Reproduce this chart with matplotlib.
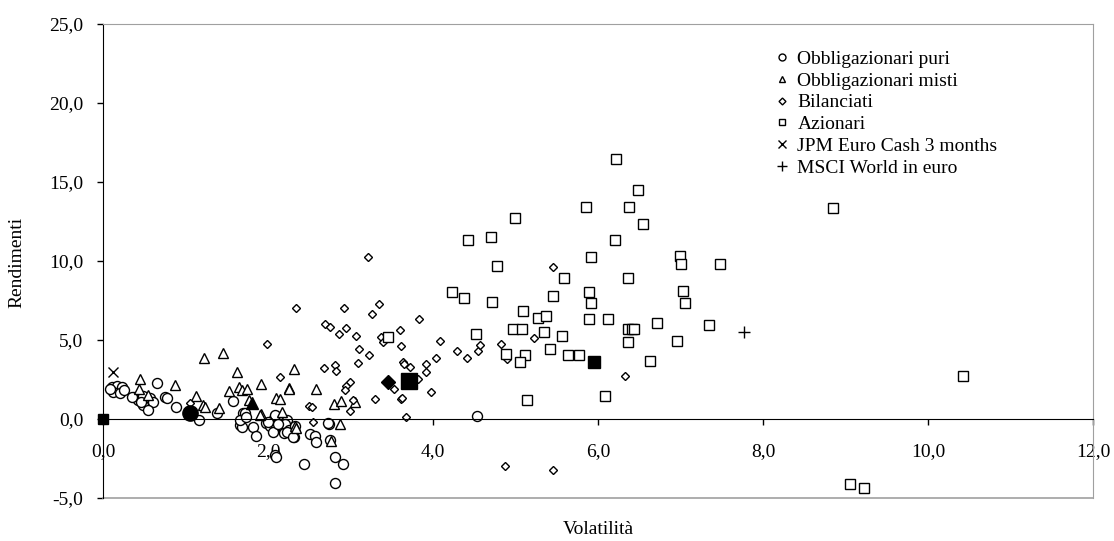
import matplotlib.pyplot as plt
from matplotlib.lines import Line2D

plt.rcParams['font.family'] = ['Liberation Serif', 'DejaVu Serif']

# Obbligazionari puri (volatilita, rendimento)
puri_x = [0.11, 0.17, 0.23, 0.12, 0.20, 0.25, 0.08, 0.37, 0.43, 0.49, 0.57, 0.61,
          0.49, 0.55, 0.35, 0.46, 0.66, 0.75, 0.77, 0.89, 1.16, 1.38, 1.57, 1.70,
          1.66, 1.68, 1.82, 1.86, 2.08, 2.10, 1.66, 1.72, 1.73, 1.98, 2.02, 2.06,
          2.09, 2.10, 2.15, 2.17, 2.19, 2.23, 2.21, 2.25, 2.31, 2.33, 2.51, 2.57,
          2.58, 2.74, 2.75, 2.44, 2.81, 2.91, 2.81, 2.06, 2.08, 2.19, 2.23, 2.30,
          2.73, 4.53, 2.00, 2.12]
puri_y = [2.04, 2.09, 2.01, 1.73, 1.66, 1.84, 1.90, 1.41, 1.20, 1.46, 1.31, 1.09,
          0.89, 0.57, 1.37, 1.05, 2.26, 1.37, 1.31, 0.74, -0.06, 0.36, 1.16, 0.40,
          -0.38, -0.49, -0.53, -1.08, -2.28, -2.39, -0.06, 0.36, 0.15, -0.27, -0.44, -0.06,
          0.19, -0.49, -0.17, -0.49, -0.70, -0.06, -0.32, -0.70, -1.16, -0.44, -0.97, -1.08,
          -1.43, -0.32, -1.33, -2.85, -2.42, -2.85, -4.07, -0.80, 0.25, -0.91, -0.80, -1.16,
          -0.27, 0.19, -0.20, -0.30]

# Obbligazionari misti
misti_x = [0.45, 0.44, 0.87, 1.22, 1.46, 1.62, 1.13, 1.65, 1.69, 1.74, 1.53, 1.92,
           1.77, 1.21, 1.24, 1.41, 2.10, 2.15, 2.26, 1.92, 2.17, 2.32, 2.25, 2.58,
           2.80, 2.87, 2.33, 2.76, 1.90, 2.34, 2.88, 3.05, 0.55]
misti_y = [2.51, 1.88, 2.15, 3.84, 4.20, 2.99, 1.46, 2.04, 1.84, 1.88, 1.79, 2.19,
           1.20, 0.89, 0.78, 0.68, 1.31, 1.25, 1.94, 0.32, 0.46, 3.18, 1.90, 1.90,
           0.93, -0.32, -0.44, -1.37, 0.25, -0.59, 1.14, 1.08, 1.50]

# Bilanciati
bil_x = [3.21, 2.34, 2.92, 3.35, 3.26, 3.83, 2.69, 2.75, 2.95, 2.86, 3.07, 3.60,
         3.37, 3.39, 4.09, 1.99, 3.10, 3.61, 3.22, 4.29, 4.04, 3.09, 2.68, 2.81,
         2.82, 3.64, 3.65, 3.72, 3.91, 3.91, 2.15, 2.99, 2.94, 3.82, 3.53, 2.93,
         3.98, 3.30, 3.61, 2.50, 2.53, 2.99, 3.67, 5.46, 4.41, 4.54, 4.57, 4.82,
         4.90, 5.22, 6.33, 2.54, 3.03, 1.05, 4.87, 5.45, 3.62]
bil_y = [10.23, 7.00, 7.03, 7.30, 6.63, 6.35, 6.01, 5.84, 5.74, 5.40, 5.25, 5.63,
         5.17, 4.89, 4.94, 4.73, 4.43, 4.62, 4.05, 4.30, 3.88, 3.56, 3.23, 3.40,
         3.06, 3.63, 3.46, 3.31, 3.48, 2.96, 2.68, 2.34, 2.11, 2.53, 1.88, 1.84,
         1.69, 1.27, 1.27, 0.84, 0.74, 0.53, 0.15, 9.64, 3.86, 4.32, 4.68, 4.77,
         3.78, 5.15, 2.72, -0.21, 1.18, 1.03, -2.95, -3.23, 1.31]

# Azionari
az_x = [6.22, 6.48, 5.85, 6.37, 6.55, 4.99, 4.42, 4.70, 6.21, 5.92, 6.99, 7.01,
        4.78, 5.59, 6.36, 4.23, 4.37, 4.71, 5.45, 5.89, 5.92, 7.03, 7.06, 5.09,
        5.27, 5.37, 4.97, 5.08, 5.34, 5.56, 5.89, 6.12, 6.36, 6.41, 6.44, 6.71,
        7.35, 6.36, 6.96, 4.52, 4.88, 5.12, 5.06, 5.42, 5.64, 5.77, 6.63, 5.14,
        6.09, 7.48, 3.46, 8.85, 10.42, 9.05, 9.22]
az_y = [16.43, 14.49, 13.44, 13.44, 12.34, 12.74, 11.33, 11.50, 11.33, 10.23, 10.32, 9.81,
        9.70, 8.90, 8.92, 8.06, 7.68, 7.43, 7.78, 8.06, 7.32, 8.12, 7.34, 6.81,
        6.37, 6.52, 5.67, 5.72, 5.51, 5.25, 6.33, 6.35, 5.67, 5.67, 5.67, 6.10,
        5.93, 4.85, 4.96, 5.38, 4.11, 4.03, 3.59, 4.43, 4.05, 4.05, 3.67, 1.20,
        1.46, 9.81, 5.21, 13.35, 2.70, -4.11, -4.39]

# medie di categoria (marker pieni)
avg_puri = (1.05, 0.40)
avg_misti = (1.81, 0.99)
avg_bil = (3.45, 2.36)
avg_tot = (3.71, 2.43)
avg_az = (5.95, 3.63)
origin = (0.0, 0.0)

jpm = (0.12, 2.99)
msci = (7.77, 5.49)

xticks = [0, 2, 4, 6, 8, 10, 12]
yticks = [-5, 0, 5, 10, 15, 20, 25]

fig = plt.figure(figsize=(11.14, 5.41), dpi=100)
ax = fig.add_axes([103 / 1114, 43 / 541, 990 / 1114, 474 / 541])

mk = dict(ls='none', mfc='white', mec='black', mew=1.0)
ax.plot(puri_x, puri_y, marker='o', ms=7.2, **mk)
ax.plot(misti_x, misti_y, marker='^', ms=7.2, **mk)
ax.plot(bil_x, bil_y, marker='D', ms=4.4, **mk)
ax.plot(az_x, az_y, marker='s', ms=6.5, **mk)

ax.plot(*avg_puri, marker='o', ms=11, color='black', ls='none')
ax.plot(*avg_misti, marker='^', ms=9, color='black', ls='none')
ax.plot(*avg_bil, marker='D', ms=7.5, color='black', ls='none')
ax.plot(*avg_tot, marker='s', ms=12, color='black', ls='none')
ax.plot(*avg_az, marker='s', ms=8, color='black', ls='none')
ax.plot(*origin, marker='s', ms=6.5, color='black', ls='none', clip_on=False, zorder=5)

ax.plot(*jpm, marker='x', ms=7, color='black', mew=1.0, ls='none')
ax.plot(*msci, marker='+', ms=8, color='black', mew=1.0, ls='none')

ax.set_xlim(0, 12)
ax.set_ylim(-5, 25)

ax.set_xticks(xticks)
ax.set_xticklabels([f'{v:.1f}'.replace('.', ',') for v in xticks])
ax.set_yticks(yticks)
ax.set_yticklabels([f'{v:.1f}'.replace('.', ',') for v in yticks])

ax.spines['bottom'].set_position(('data', 0))
ax.spines['bottom'].set_color('black')
ax.spines['left'].set_color('black')
ax.spines['top'].set_color('#a0a0a0')
ax.spines['right'].set_color('#a0a0a0')
ax.plot([0, 1], [0, 0], transform=ax.transAxes, color='#a0a0a0', lw=1.2, clip_on=False)

ax.tick_params(axis='x', direction='out', length=4, width=1, pad=13, labelsize=14)
ax.tick_params(axis='y', direction='out', length=4, width=1, pad=10, labelsize=14)

fig.text(17 / 1114, 1 - 262 / 541, 'Rendimenti', rotation=90, ha='center', va='center', fontsize=14)
fig.text(598 / 1114, 1 - 530 / 541, 'Volatilità', ha='center', va='center', fontsize=14)

handles = [
    Line2D([], [], marker='o', ms=5, label='Obbligazionari puri', **mk),
    Line2D([], [], marker='^', ms=5, label='Obbligazionari misti', **mk),
    Line2D([], [], marker='D', ms=3.5, label='Bilanciati', **mk),
    Line2D([], [], marker='s', ms=5, label='Azionari', **mk),
    Line2D([], [], marker='x', ms=6, ls='none', color='black', mew=1.0, label='JPM Euro Cash 3 months'),
    Line2D([], [], marker='+', ms=7, ls='none', color='black', mew=1.0, label='MSCI World in euro'),
]
ax.legend(handles=handles, loc='upper left', bbox_to_anchor=(774 / 1114, 1 - 50 / 541),
          bbox_transform=fig.transFigure, frameon=False, fontsize=14, handlelength=0.8,
          handletextpad=0.4, labelspacing=0.22, borderpad=0, borderaxespad=0)

fig.savefig('out.png', dpi=100)
